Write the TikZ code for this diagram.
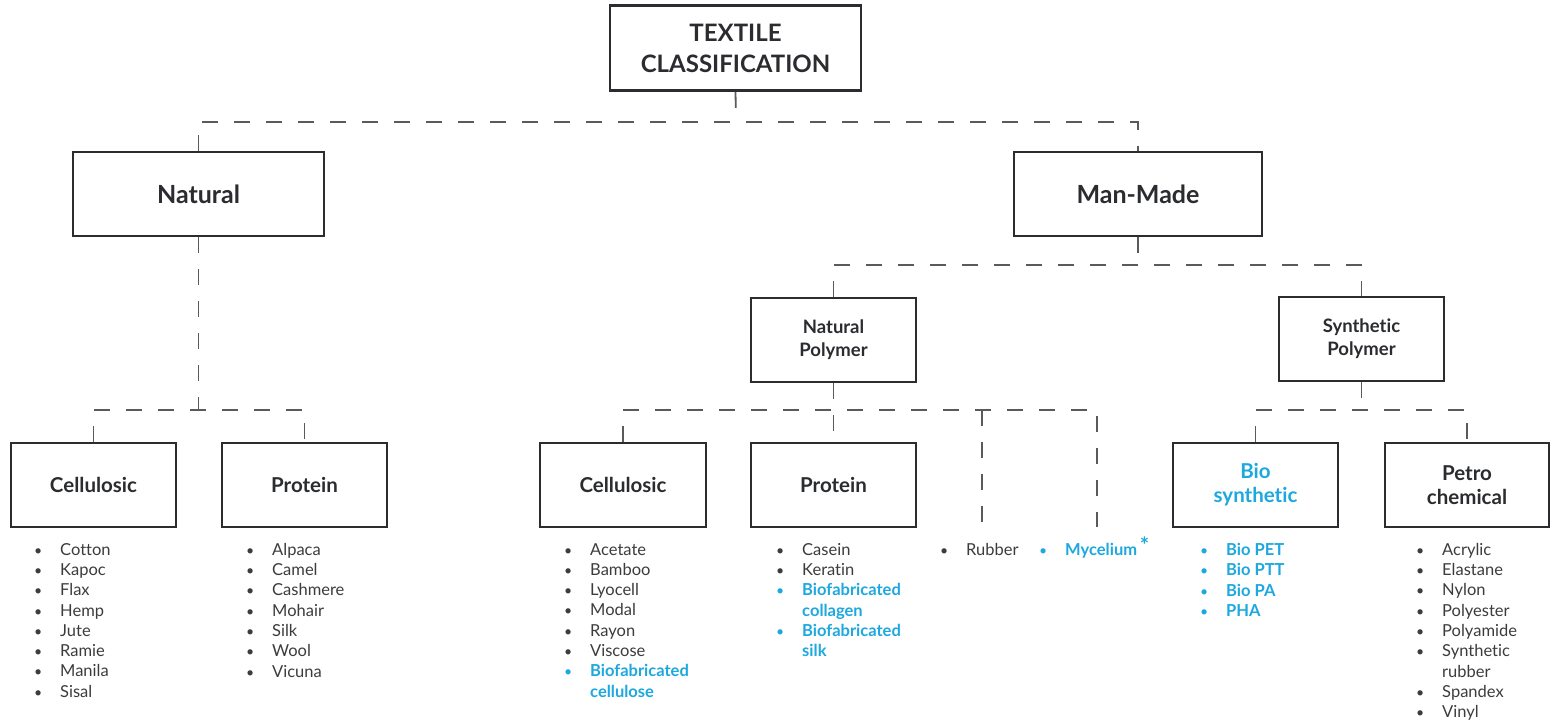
\documentclass[tikz,border=0pt]{standalone}
\usepackage{fontspec}
\setmainfont[Ligatures={NoCommon}]{Lato}
\definecolor{ink}{HTML}{2A2C2F}
\definecolor{lstc}{HTML}{3C3C3C}
\definecolor{bl}{HTML}{1DA8E0}
\definecolor{ln}{HTML}{5A5A5A}
\newcommand{\smbul}{\scalebox{0.85}{\textbullet}}
\newcommand{\itm}{\leavevmode\llap{\smbul\hspace{18pt}}}
\newcommand{\bitm}{\leavevmode\llap{\textcolor{bl}{\smbul}\hspace{18pt}}}
\newcommand{\blu}[1]{\textcolor{bl}{\bfseries #1}}
\tikzset{
 box/.style={draw=ink, line width=2.8pt, minimum width=#1, minimum height=84pt, inner sep=0pt, align=center, text=ink, font=\bfseries\fontsize{20.5}{24}\selectfont},
 box/.default=165pt,
 conn/.style={draw=ln, line width=1.8pt, dash pattern=on 16pt off 16pt},
 lst/.style={anchor=north west, inner sep=0pt, align=left, text=lstc, font=\fontsize{16.5}{20.3}\selectfont},
}
\begin{document}
\begin{tikzpicture}[x=1pt,y=-1pt]
\useasboundingbox[fill=white] (0,0) rectangle (1554,722);
% boxes
\node[box=251pt, minimum height=85pt, font=\bfseries\fontsize{24}{31}\selectfont] (top) at (735.5,48) {TEXTILE\\CLASSIFICATION};
\node[box=251pt, font=\bfseries\fontsize{25}{28}\selectfont] (nat) at (198.5,194) {Natural};
\node[box=248pt, font=\bfseries\fontsize{25}{28}\selectfont] (man) at (1138,194) {Man-Made};
\node[box, font=\bfseries\fontsize{18.5}{23}\selectfont] (np) at (833.5,340) {Natural\\Polymer};
\node[box, font=\bfseries\fontsize{18.5}{23}\selectfont] (sp) at (1361.5,339) {Synthetic\\Polymer};
\node[box] (c1) at (93.5,485) {Cellulosic};
\node[box] (p1) at (304.5,485) {Protein};
\node[box=166pt] (c2) at (623,485) {Cellulosic};
\node[box] (p2) at (833.5,485) {Protein};
\node[box, text=bl] (bs) at (1255.5,485) {Bio\\synthetic};
\node[box=164pt] (pc) at (1467,485) {Petro\\chemical};
% junctions
\coordinate (j0) at (736,122);
\coordinate (j1) at (198.5,410);
\coordinate (j2) at (1138,265);
\coordinate (j3) at (833.5,410);
\coordinate (j4) at (1361.5,410);
\coordinate (rbL) at (982,527);
\coordinate (rbR) at (1097,527);
% connectors
\draw[conn] (top.south) -- (j0);
\draw[conn] (nat.north) |- (j0) -| (man.north);
\draw[conn] (nat.south) -- (j1);
\draw[conn] (c1.north) |- (j1) -| (p1.north);
\draw[conn] (man.south) -- (j2);
\draw[conn] (np.north) |- (j2) -| (sp.north);
\draw[conn] (np.south) -- (j3) -- (p2.north);
\draw[conn] (c2.north) |- (j3) -| (rbR);
\draw[conn] (rbL |- j3) -- (rbL);
\draw[conn] (sp.south) -- (j4);
\draw[conn] (bs.north) |- (j4) -| (pc.north);
% lists
\node[lst] (l1) at (60,543) {\itm Cotton\\\itm Kapoc\\\itm Flax\\\itm Hemp\\\itm Jute\\\itm Ramie\\\itm Manila\\\itm Sisal};
\node[lst] (l2) at (272,543) {\itm Alpaca\\\itm Camel\\\itm Cashmere\\\itm Mohair\\\itm Silk\\\itm Wool\\\itm Vicuna};
\node[lst] (l3) at (590,543) {\itm Acetate\\\itm Bamboo\\\itm Lyocell\\\itm Modal\\\itm Rayon\\\itm Viscose\\\bitm\blu{Biofabricated}\\\blu{cellulose}};
\node[lst] (l4) at (802,543) {\itm Casein\\\itm Keratin\\\bitm\blu{Biofabricated}\\\blu{collagen}\\\bitm\blu{Biofabricated}\\\blu{silk}};
\node[lst] (l5) at (966,543) {\itm Rubber};
\node[lst] (l6) at (1065,543) {\bitm\blu{Mycelium\,\smash{\raisebox{0.12em}{\fontsize{22}{22}\selectfont *}}}};
\node[lst] (l7) at (1226,543) {\bitm\blu{Bio PET}\\\bitm\blu{Bio PTT}\\\bitm\blu{Bio PA}\\\bitm\blu{PHA}};
\node[lst] (l8) at (1442,543) {\itm Acrylic\\\itm Elastane\\\itm Nylon\\\itm Polyester\\\itm Polyamide\\\itm Synthetic\\rubber\\\itm Spandex\\\itm Vinyl};
\end{tikzpicture}
\end{document}
